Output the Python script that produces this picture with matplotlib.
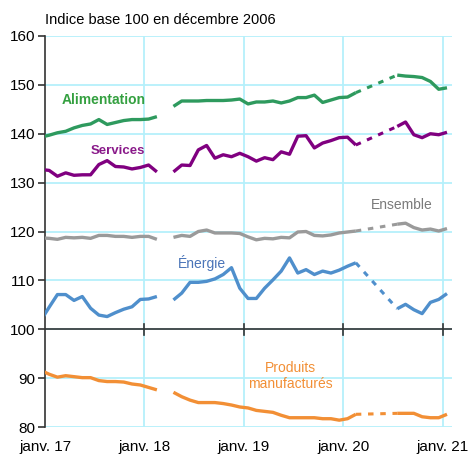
import matplotlib.pyplot as plt

plt.rcParams['font.family'] = ['Liberation Sans', 'DejaVu Sans']

# months since Jan 2017 (0 = janv. 17); -1 = déc. 16
m1 = list(range(-1, 14))
m2 = list(range(15, 38))
m3 = list(range(42, 49))

alimentation = {
    1: [139.3, 139.7, 140.2, 140.5, 141.2, 141.7, 142.0, 142.9, 141.9, 142.3, 142.7, 142.9, 142.9, 143.0, 143.5],
    2: [145.6, 146.7, 146.7, 146.7, 146.8, 146.8, 146.8, 146.9, 147.1, 146.1, 146.5, 146.5, 146.7, 146.3,
        146.7, 147.4, 147.4, 147.9, 146.4, 146.9, 147.4, 147.5, 148.4],
    3: [152.0, 151.8, 151.7, 151.5, 150.7, 149.1, 149.4],
}
services = {
    1: [132.7, 132.5, 131.3, 132.0, 131.5, 131.6, 131.6, 133.7, 134.5, 133.3, 133.2, 132.8, 133.1, 133.6, 132.2],
    2: [132.2, 133.6, 133.5, 136.7, 137.6, 135.0, 135.7, 135.3, 136.0, 135.3, 134.4, 135.1, 134.7, 136.3,
        135.8, 139.5, 139.6, 137.1, 138.1, 138.6, 139.2, 139.3, 137.7],
    3: [141.5, 142.4, 139.8, 139.2, 140.0, 139.8, 140.3],
}
ensemble = {
    1: [118.7, 118.6, 118.4, 118.8, 118.7, 118.8, 118.6, 119.2, 119.2, 119.0, 119.0, 118.8, 119.0, 119.0, 118.4],
    2: [118.8, 119.2, 119.0, 120.0, 120.3, 119.7, 119.7, 119.7, 119.6, 118.9, 118.3, 118.6, 118.5, 118.8,
        118.7, 119.9, 120.0, 119.2, 119.1, 119.3, 119.7, 119.9, 120.1],
    3: [121.5, 121.7, 120.8, 120.3, 120.5, 120.1, 120.6],
}
energie = {
    1: [101.8, 104.5, 107.1, 107.1, 105.9, 106.7, 104.3, 102.9, 102.6, 103.4, 104.1, 104.6, 106.1, 106.2, 106.7],
    2: [106.0, 107.4, 109.6, 109.6, 109.8, 110.3, 111.2, 112.6, 108.4, 106.3, 106.3, 108.4, 110.1, 111.9,
        114.6, 111.5, 112.2, 111.2, 111.9, 111.5, 112.1, 112.9, 113.6],
    3: [104.2, 105.1, 104.0, 103.2, 105.5, 106.1, 107.3],
}
manufactures = {
    1: [91.6, 90.8, 90.2, 90.5, 90.3, 90.1, 90.1, 89.5, 89.3, 89.3, 89.2, 88.8, 88.6, 88.1, 87.6],
    2: [87.1, 86.2, 85.5, 85.0, 85.0, 85.0, 84.8, 84.5, 84.1, 83.9, 83.4, 83.2, 83.0, 82.4,
        81.9, 81.9, 81.9, 81.9, 81.7, 81.7, 81.4, 81.7, 82.6],
    3: [82.8, 82.8, 82.8, 82.1, 81.9, 81.9, 82.6],
}

series = [
    (alimentation, '#2e9a5e', 'Alimentation', '#34a040', (7.1, 146.9), 'bold', 10),
    (services, '#800080', 'Services', '#8a1a8a', (8.8, 136.5), 'bold', 9.5),
    (ensemble, '#9a9a9a', 'Ensemble', '#7a7a7a', (43.1, 125.4), 'normal', 10),
    (energie, '#4f8fcc', 'Énergie', '#4a74b8', (18.9, 113.6), 'normal', 10),
    (manufactures, '#f28f35', 'Produits\nmanufacturés', '#f28f35', (29.6, 90.4), 'normal', 10),
]

xticks = [0, 12, 24, 36, 48]
xlabels = ['janv. 17', 'janv. 18', 'janv. 19', 'janv. 20', 'janv. 21']
yticks = list(range(80, 161, 10))

fig = plt.figure(figsize=(4.76, 4.55), dpi=100)
ax = fig.add_axes([0.0945, 0.0615, 0.855, 0.8594])

grid_c = '#b5f0fb'
for y in yticks:
    ax.axhline(y, color=grid_c, lw=1.3, zorder=0)
for x in xticks[1:]:
    ax.axvline(x, color=grid_c, lw=1.3, zorder=0)

off = 0.5  # points drawn mid-month
for data, col, label, tcol, pos, weight, fs in series:
    ax.plot([m + off for m in m1], data[1], color=col, lw=2.4, solid_capstyle='butt', zorder=3)
    ax.plot([m + off for m in m2], data[2], color=col, lw=2.4, solid_capstyle='butt', zorder=3)
    ax.plot([m + off for m in m3], data[3], color=col, lw=2.4, solid_capstyle='butt', zorder=3)
    ax.plot([m2[-1] + off, m3[0] + off], [data[2][-1], data[3][0]], color=col, lw=2.2,
            linestyle=(0, (1.8, 2.2)), zorder=3)
    ax.text(pos[0], pos[1], label, color=tcol, fontsize=fs, fontweight=weight,
            ha='center', va='center', linespacing=1.2)

# base 100 line with year ticks
ax.axhline(100, color='#333333', lw=1.2, zorder=2)
for x in xticks[1:]:
    ax.plot([x, x], [98.9, 101.1], color='#333333', lw=1.2, zorder=2)

ax.set_xlim(0, 49.1)
ax.set_ylim(80, 160)
ax.set_yticks(yticks)
ax.set_xticks(xticks)
ax.set_xticklabels(xlabels)
ax.tick_params(axis='y', length=5, width=1.2, color='#333333', pad=2, labelsize=11)
ax.tick_params(axis='x', length=0, pad=9, labelsize=11)

for s in ['top', 'right', 'bottom']:
    ax.spines[s].set_visible(False)
ax.spines['left'].set_color('#333333')
ax.spines['left'].set_linewidth(1.2)

fig.text(0.0945, 0.956, 'Indice base 100 en décembre 2006', fontsize=10.5, ha='left', va='center')

fig.savefig('out.png', dpi=100)
